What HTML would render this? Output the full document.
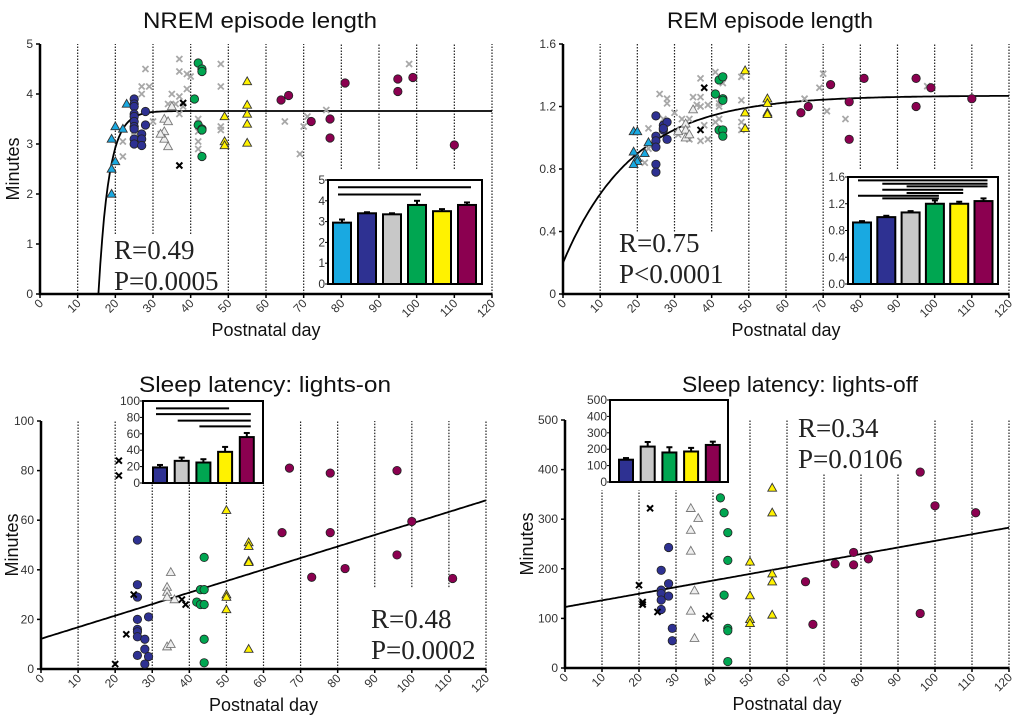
<!DOCTYPE html>
<html><head><meta charset="utf-8"><style>
html,body{margin:0;padding:0;background:#fff;}
svg{display:block;font-family:"Liberation Sans",sans-serif;}
</style></head><body>
<svg id="chart" width="1024" height="717" viewBox="0 0 1024 717" xmlns="http://www.w3.org/2000/svg"></svg>
<script>
// ---------- DATA ----------
// NREM episode length
const nremCyan=[[19,3.1],[20,3.35],[19,2.5],[19,2.0],[20,2.65],[22,3.3],[23,3.8]];
const nremNavy=[[25,3.9],[25,3.8],[25,3.75],[25,3.6],[25,3.55],[25,3.45],[25,3.35],[25,3.3],[25,3.1],[25,3.0],[27,3.2],[27,3.1],[27,2.97],[28,3.65],[28,3.38]];
const nremGrayX=[[22,3.05],[22,2.75],[27,4.0],[27,4.15],[28,4.5],[29,4.15],[30,3.45],[25,3.25],[37,4.7],[37,4.45],[39,4.4],[40,4.35],[39,4.1],[35,4.0],[34,3.8],[36,3.8],[37,3.95],[37,3.6],[38,3.75],[42,3.5],[42,3.25],[42,3.05],[42,2.9],[48,4.6],[48,4.15],[48,3.35],[48,3.28],[65,3.45],[71,3.55],[70,3.35],[69,2.8],[76,3.68],[98,4.6],[32,3.2]];
const nremGrayTri=[[33,3.5],[34,3.45],[33,3.25],[33,3.1],[34,2.95],[35,3.75],[32,3.2]];
const nremBlackX=[[38,3.82],[37,2.57]];
const nremGreen=[[42,4.62],[43,4.5],[43,4.45],[41,3.9],[42,3.38],[43,3.3],[43,3.28],[43,2.75]];
const nremYellow=[[55,4.25],[55,3.78],[55,3.6],[55,3.4],[55,3.02],[49,3.55],[49,3.05],[49,2.97]];
const nremMaroon=[[64,3.88],[66,3.97],[72,3.45],[77,3.5],[77,3.12],[81,4.22],[95,4.3],[95,4.05],[99,4.33],[110,2.98]];
const nremBarMeans=[2.95,3.4,3.35,3.8,3.5,3.8];
const nremBarErr=[0.15,0.05,0.05,0.2,0.1,0.12];
const nremSig=[[0,5,4.65],[0,3,4.3]];
// REM episode length
const remCyan=[[19,1.04],[20,1.04],[19,0.91],[20,0.87],[20,0.85],[19,0.83],[22,0.9],[23,0.97]];
const remNavy=[[25,1.14],[25,1.01],[25,0.98],[25,0.94],[25,0.83],[25,0.78],[27,1.08],[27,1.05],[28,1.1],[28,0.99],[27,1.06]];
const remGrayX=[[26,1.28],[28,1.25],[28,1.22],[30,1.16],[27,1.12],[23,1.06],[22,0.84],[23,0.93],[31,1.02],[32,1.12],[34,1.12],[33,1.05],[34,0.99],[35,1.26],[36,1.21],[37,1.38],[37,1.26],[37,1.2],[39,1.21],[38,1.08],[37,0.98],[39,0.99],[41,1.42],[43,1.35],[42,1.2],[42,1.12],[41,1.1],[48,1.39],[48,1.24],[48,1.1],[48,1.05],[65,1.25],[69,1.32],[70,1.41],[71,1.17],[76,1.12],[98,1.33],[42,1.22]];
const remGrayTri=[[35,1.18],[33,1.09],[33,1.05],[33,1.0],[31,1.04],[34,1.02]];
const remBlackX=[[38,1.32],[37,1.05]];
const remGreen=[[41,1.28],[42,1.37],[43,1.39],[43,1.25],[43,1.24],[42,1.05],[43,1.05],[43,1.01]];
const remYellow=[[49,1.43],[49,1.16],[49,1.06],[55,1.25],[55,1.22],[55,1.16],[55,1.15]];
const remMaroon=[[64,1.16],[66,1.2],[72,1.34],[77,1.23],[77,0.99],[81,1.38],[95,1.38],[95,1.2],[99,1.32],[110,1.25]];
const remBarMeans=[0.92,1.0,1.07,1.2,1.2,1.24];
const remBarErr=[0.02,0.02,0.02,0.05,0.03,0.04];
const remSig=[[0,5,1.55],[1,5,1.5],[2,5,1.46],[1,4,1.41],[2,4,1.36],[0,3,1.32],[1,3,1.28]];
// Sleep latency lights-on
const onBlackX=[[21,84],[21,78],[25,30],[23,14],[20,2],[38,28],[39,26]];
const onNavy=[[26,52],[26,34],[26,29],[26,20],[26,16],[26,15],[26,13],[26,5.5],[28,12],[28,8],[28,2],[29,21],[29,5]];
const onGrayTri=[[35,39],[34,33],[34,31],[34,29],[36,28],[34,9],[35,10]];
const onGreen=[[44,45],[43,32],[44,32],[42,27],[43,26],[44,26],[44,12],[44,2.5]];
const onYellow=[[50,64],[50,30],[50,29],[50,24],[56,51],[56,49.5],[56,43.5],[56,43],[56,8]];
const onMaroon=[[67,81],[65,55],[78,79],[78,55],[73,37],[82,40.5],[96,80],[96,46],[100,59.5],[111,36.5]];
const onBarMeans=[19,27,25,38,56];
const onBarErr=[3,4,4,6,5];
const onSig=[[0,3,91],[0,4,84],[1,4,76],[2,4,69]];
// Sleep latency lights-off
const offBlackX=[[20,167],[21,133],[21,128],[23,322],[25,113],[38,100],[39,105]];
const offNavy=[[28,243],[26,197],[28,170],[26,157],[26,150],[26,137],[28,145],[26,118],[29,80],[29,55]];
const offGrayTri=[[34,322],[36,302],[34,278],[34,236],[35,156],[34,115],[35,60]];
const offGreen=[[42,343],[43,313],[44,273],[44,217],[43,147],[44,80],[44,75],[44,13]];
const offYellow=[[56,363],[56,313],[56,190],[56,174],[56,107],[50,214],[50,146],[50,98],[50,90]];
const offMaroon=[[96,395],[100,327],[111,313],[78,233],[73,210],[78,208],[82,220],[65,174],[67,88],[96,110]];
const offBarMeans=[136,216,180,186,226];
const offBarErr=[10,28,32,22,20];
const offSig=[];
const xTicks=[0,10,20,30,40,50,60,70,80,90,100,110,120];

// ---------- RENDER ----------
const NS="http://www.w3.org/2000/svg";
const svg=document.getElementById('chart');
function mk(tag,attrs,parent){const e=document.createElementNS(NS,tag);for(const k in attrs)e.setAttribute(k,attrs[k]);(parent||svg).appendChild(e);return e;}
const C={cyan:'#19a9e1',navy:'#2e3192',gray:'#c8c8c8',triGray:'#eeeeee',green:'#00a651',yellow:'#fff200',maroon:'#8b0050'};

function panel(cfg){
  const g=mk('g',{});
  
  
  const sx=d=>cfg.x0+(cfg.x1-cfg.x0)*d/120;
  const sy=v=>cfg.y0-(cfg.y0-cfg.y1)*v/cfg.ymax;
  const t=mk('text',{x:cfg.tx,y:cfg.ty,'font-size':22,'text-anchor':'middle',fill:'#111',textLength:cfg.tl,lengthAdjust:'spacingAndGlyphs'},g);
  t.textContent=cfg.title;
  
  
  cfg.dots.forEach(([d,a,b])=>{
    const l=mk('line',{x1:sx(d),x2:sx(d),y1:sy(a),y2:sy(b),stroke:'#222','stroke-width':1.2,'stroke-dasharray':'1.5,1.5'},g);
    
    
  });
  const ax=mk('path',{d:`M${cfg.x0},${cfg.y1}V${cfg.y0}H${cfg.x1}`,stroke:'#000','stroke-width':2.5,fill:'none'},g);
  
  
  cfg.yticks.forEach(v=>{
    mk('line',{x1:cfg.x0-4,x2:cfg.x0,y1:sy(v),y2:sy(v),stroke:'#000','stroke-width':1.5},g);
    const tt=mk('text',{x:cfg.x0-7,y:sy(v)+4,'font-size':12,'text-anchor':'end',fill:'#333'},g);
    tt.textContent=cfg.ylab?cfg.ylab(v):v;
    
    
  });
  xTicks.forEach(d=>{
    mk('line',{x1:sx(d),x2:sx(d),y1:cfg.y0,y2:cfg.y0+4,stroke:'#000','stroke-width':1.5},g);
    const tt=mk('text',{x:sx(d)+4,y:cfg.y0+10,'font-size':12,'text-anchor':'end',fill:'#333',transform:`rotate(-45 ${sx(d)+4} ${cfg.y0+10})`},g);
    tt.textContent=d;
    
    
  });
  const xl=mk('text',{x:(cfg.x0+cfg.x1)/2,y:cfg.y0+42,'font-size':18,'text-anchor':'middle',fill:'#111'},g);
  xl.textContent='Postnatal day';
  
  
  if(cfg.ylx){
    const yc=(cfg.y0+cfg.y1)/2;
    const yl=mk('text',{x:cfg.ylx,y:yc,'font-size':18,'text-anchor':'middle',fill:'#111',transform:`rotate(-90 ${cfg.ylx} ${yc})`},g);
    yl.textContent='Minutes';
    
    
  }
  let pts=[];
  for(let d=cfg.fitStart;d<=120;d+=0.5){const v=cfg.fit(d);pts.push(sx(d).toFixed(1)+','+sy(Math.max(0,v)).toFixed(1));}
  const fl=mk('polyline',{points:pts.join(' '),fill:'none',stroke:'#000','stroke-width':1.8},g);
  
  
  cfg.series.forEach(([arr,kind,col])=>{
    arr.forEach(([d,v])=>{
      const x=sx(d),y=sy(v);let e;
      if(kind==='c') e=mk('circle',{cx:x,cy:y,r:4.2,fill:col,stroke:'#222','stroke-width':0.8},g);
      else if(kind==='t') e=mk('path',{d:`M${x},${y-4.6}L${x+4.4},${y+3.2}L${x-4.4},${y+3.2}Z`,fill:col,stroke:col===C.triGray?'#777':'#333','stroke-width':0.9},g);
      else e=mk('path',{d:`M${x-3},${y-3}L${x+3},${y+3}M${x+3},${y-3}L${x-3},${y+3}`,stroke:col,'stroke-width':col==='#000'?2:1.8,fill:'none'},g);
      
      
    });
  });
  const r=mk('text',{x:cfg.rx,y:cfg.ry,'font-size':27,'font-family':'Liberation Serif, serif',fill:'#222'},g);
  r.textContent=cfg.R;
  
  
  const p=mk('text',{x:cfg.rx,y:cfg.ry+31,'font-size':27,'font-family':'Liberation Serif, serif',fill:'#222'},g);
  p.textContent=cfg.P;
  
  
  const I=cfg.inset;
  const ig=mk('g',{},g);
  
  
  mk('rect',{x:I.bx0,y:I.by1,width:I.bx1-I.bx0,height:I.by0-I.by1,fill:'#fff',stroke:'#000','stroke-width':2},ig);
  const iy=v=>I.by0-(I.by0-I.by1)*v/I.ymax;
  I.ticks.forEach(v=>{
    mk('line',{x1:I.bx0-3,x2:I.bx0,y1:iy(v),y2:iy(v),stroke:'#000'},ig);
    const tt=mk('text',{x:I.bx0-3,y:iy(v)+4,'font-size':12,'text-anchor':'end',fill:'#333'},ig);
    tt.textContent=I.lab?I.lab(v):v;
    
    
  });
  I.means.forEach((m,i)=>{
    const x=I.start+i*I.step;
    mk('line',{x1:x+I.w/2,x2:x+I.w/2,y1:iy(m),y2:iy(m+I.err[i]),stroke:'#000','stroke-width':2},ig);
    mk('line',{x1:x+I.w/2-3,x2:x+I.w/2+3,y1:iy(m+I.err[i]),y2:iy(m+I.err[i]),stroke:'#000','stroke-width':2},ig);
    const b=mk('rect',{x:x,y:iy(m),width:I.w,height:iy(0)-iy(m),fill:I.colors[i],stroke:'#000','stroke-width':2},ig);
    
    
  });
  I.sig.forEach(([a,b2,v])=>{
    const l=mk('line',{x1:I.start+a*I.step+I.w/2-4,x2:I.start+b2*I.step+I.w/2+4,y1:iy(v),y2:iy(v),stroke:'#000','stroke-width':2},ig);
    
    
  });
}
const six=[C.cyan,C.navy,C.gray,C.green,C.yellow,C.maroon];
const five=[C.navy,C.gray,C.green,C.yellow,C.maroon];
panel({name:'nrem-panel',title:'NREM episode length',tx:260,ty:28,tl:234,x0:40,x1:492,y0:294,y1:44,ymax:5,yticks:[0,1,2,3,4,5],ylx:19,
  dots:[[10,0,5],[20,1.2,5],[30,1.2,5],[40,1.2,5],[50,0,5],[60,0,5],[70,0,5],[80,2.5,5],[90,2.5,5],[100,2.5,5],[110,2.5,5],[120,0,5]],
  fitStart:15.5,fit:d=>3.66*(1-Math.exp(-(d-15.5)/2.8)),
  series:[[nremGrayX,'x','#a8a8a8'],[nremGrayTri,'t',C.triGray],[nremCyan,'t',C.cyan],[nremNavy,'c',C.navy],[nremGreen,'c',C.green],[nremYellow,'t',C.yellow],[nremMaroon,'c',C.maroon],[nremBlackX,'x','#000']],
  rx:114,ry:259,R:'R=0.49',P:'P=0.0005',
  inset:{bx0:328,bx1:482,by0:284,by1:180,ymax:5,ticks:[0,1,2,3,4,5],start:333,step:25,w:18,means:nremBarMeans,err:nremBarErr,colors:six,sig:nremSig}});
panel({name:'rem-panel',title:'REM episode length',tx:770,ty:28,tl:206,x0:563,x1:1009,y0:294,y1:44,ymax:1.6,yticks:[0,0.4,0.8,1.2,1.6],ylab:v=>v===0?'0':v.toFixed(1),ylx:0,
  dots:[[10,0,1.6],[20,0.4,1.6],[30,0.4,1.6],[40,0.4,1.6],[50,0,1.6],[60,0,1.6],[70,0,1.6],[80,0.8,1.6],[90,0.8,1.6],[100,0.8,1.6],[110,0.8,1.6],[120,0,1.6]],
  fitStart:0,fit:d=>1.27-1.07*Math.exp(-d/18.9),
  series:[[remGrayX,'x','#a8a8a8'],[remGrayTri,'t',C.triGray],[remCyan,'t',C.cyan],[remNavy,'c',C.navy],[remGreen,'c',C.green],[remYellow,'t',C.yellow],[remMaroon,'c',C.maroon],[remBlackX,'x','#000']],
  rx:619,ry:252,R:'R=0.75',P:'P<0.0001',
  inset:{bx0:848,bx1:998,by0:284,by1:177,ymax:1.6,ticks:[0,0.4,0.8,1.2,1.6],lab:v=>v.toFixed(1),start:853,step:24.3,w:18,means:remBarMeans,err:remBarErr,colors:six,sig:remSig}});
panel({name:'lights-on-panel',title:'Sleep latency: lights-on',tx:265,ty:392,tl:252,x0:41,x1:486,y0:669,y1:421,ymax:100,yticks:[0,20,40,60,80,100],ylx:18,
  dots:[[10,0,100],[20,0,100],[30,0,75],[40,0,75],[50,0,75],[60,0,75],[70,0,100],[80,0,100],[90,33,100],[100,33,100],[110,33,100],[120,0,100]],
  fitStart:0,fit:d=>12.2+d*(68-12.2)/120,
  series:[[onGrayTri,'t',C.triGray],[onNavy,'c',C.navy],[onGreen,'c',C.green],[onYellow,'t',C.yellow],[onMaroon,'c',C.maroon],[onBlackX,'x','#000']],
  rx:371,ry:628,R:'R=0.48',P:'P=0.0002',
  inset:{bx0:143,bx1:263,by0:483,by1:401,ymax:100,ticks:[0,20,40,60,80,100],start:153,step:21.7,w:14,means:onBarMeans,err:onBarErr,colors:five,sig:onSig}});
panel({name:'lights-off-panel',title:'Sleep latency: lights-off',tx:800,ty:392,tl:236,x0:565,x1:1009,y0:668,y1:420,ymax:500,yticks:[0,100,200,300,400,500],ylx:533,
  dots:[[10,0,358],[20,0,358],[30,0,358],[40,0,358],[50,0,500],[60,0,500],[70,0,390],[80,0,390],[90,0,390],[100,0,500],[110,0,500],[120,0,500]],
  fitStart:0,fit:d=>123+d*(283-123)/120,
  series:[[offGrayTri,'t',C.triGray],[offNavy,'c',C.navy],[offGreen,'c',C.green],[offYellow,'t',C.yellow],[offMaroon,'c',C.maroon],[offBlackX,'x','#000']],
  rx:798,ry:437,R:'R=0.34',P:'P=0.0106',
  inset:{bx0:610,bx1:728,by0:482,by1:400,ymax:500,ticks:[0,100,200,300,400,500],start:619,step:21.7,w:14,means:offBarMeans,err:offBarErr,colors:five,sig:offSig}});
</script>
</body></html>
